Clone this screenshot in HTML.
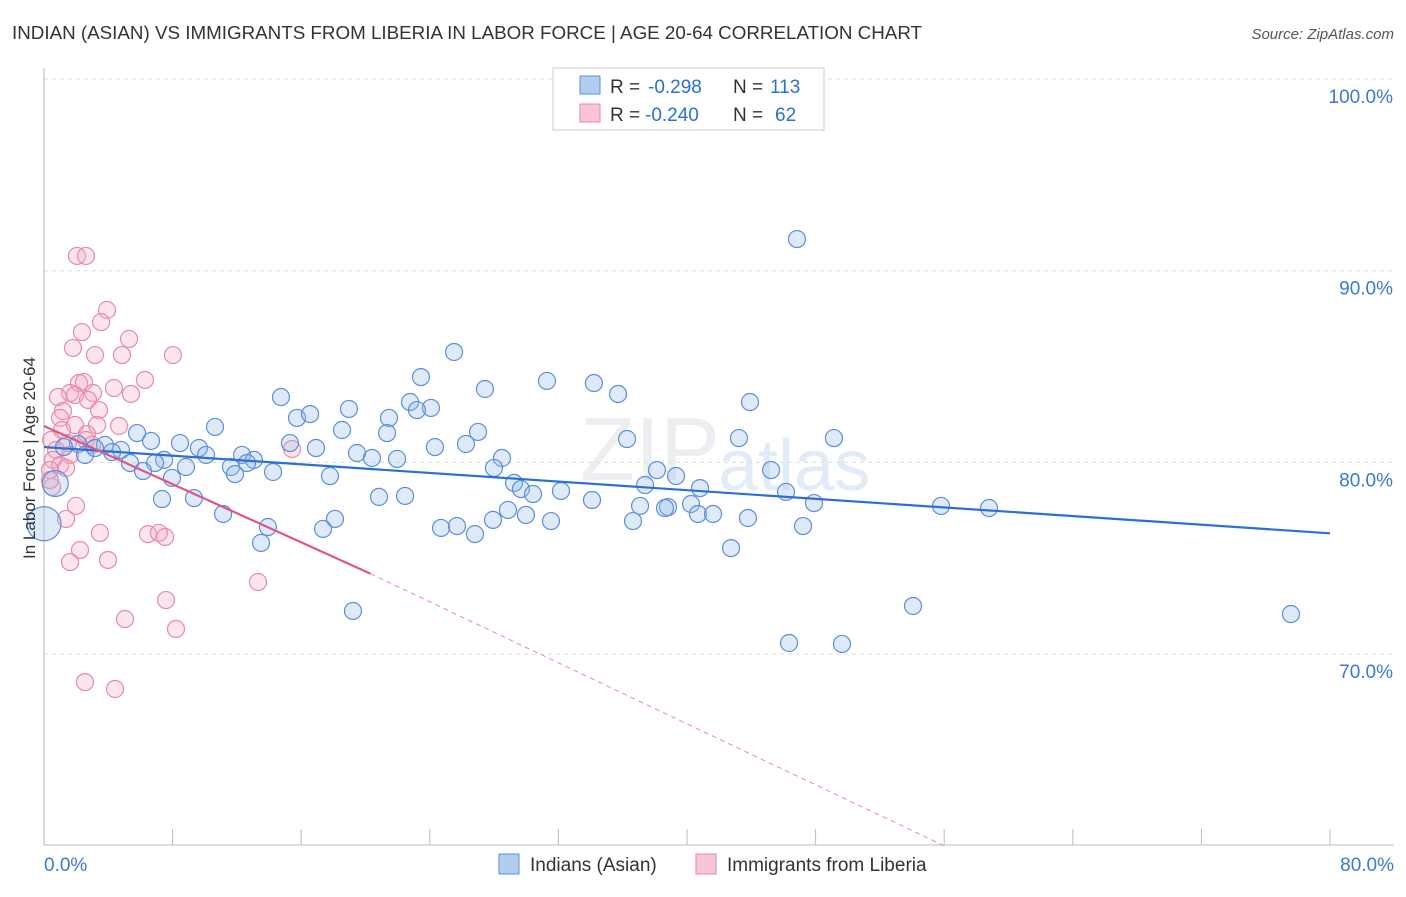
<!DOCTYPE html>
<html><head><meta charset="utf-8"><style>
body{margin:0;background:#fff;font-family:"Liberation Sans",sans-serif;}
svg text{font-family:"Liberation Sans",sans-serif;}
</style></head><body>
<svg id="chart" width="1406" height="892" xmlns="http://www.w3.org/2000/svg">
<text x="12" y="39" font-size="18.8" fill="#333">INDIAN (ASIAN) VS IMMIGRANTS FROM LIBERIA IN LABOR FORCE | AGE 20-64 CORRELATION CHART</text>
<text x="1394" y="39" font-size="15" fill="#555" font-style="italic" text-anchor="end">Source: ZipAtlas.com</text>
<text x="720" y="480" font-size="90" fill="#eceef2" text-anchor="end" font-family="Liberation Serif">ZIP</text>
<text x="718" y="490" font-size="72" fill="#e2ebf8">atlas</text>
<g id="grid"></g>
<g id="axes"></g>
<g id="marks"></g>
<text x="35" y="458" font-size="17" fill="#333" text-anchor="middle" transform="rotate(-90 35 458)">In Labor Force | Age 20-64</text>
<g>
<rect x="553" y="68" width="271" height="62" fill="#fff" stroke="#ccc"/>
<rect x="580" y="76" width="20" height="18" fill="#b3cdf1" stroke="#5b8fdc"/>
<rect x="580" y="104" width="20" height="18" fill="#f8c3d3" stroke="#e88aa8"/>
<text x="610" y="93" font-size="19" fill="#333">R =</text>
<text x="648" y="93" font-size="19" fill="#2a6fd6">-0.298</text>
<text x="733" y="93" font-size="19" fill="#333">N =</text>
<text x="770" y="93" font-size="19" fill="#2a6fd6">113</text>
<text x="610" y="121" font-size="19" fill="#333">R =</text>
<text x="645" y="121" font-size="19" fill="#2a6fd6">-0.240</text>
<text x="733" y="121" font-size="19" fill="#333">N =</text>
<text x="775" y="121" font-size="19" fill="#2a6fd6">62</text>
</g>
<g>
<rect x="499" y="854" width="20" height="20" fill="#b3cdf1" stroke="#5b8fdc"/>
<text x="530" y="871" font-size="19" fill="#333">Indians (Asian)</text>
<rect x="696" y="854" width="20" height="20" fill="#f8c3d3" stroke="#e88aa8"/>
<text x="727" y="871" font-size="19" fill="#333">Immigrants from Liberia</text>
</g>
</svg>
<script>
const xTicks=[0,8,16,24,32,40,48,56,64,72,80];
const yTicks=[100,90,80,70];
const yTickLabels=["100.0%","90.0%","80.0%","70.0%"];
const bluePx=[[797,239],[454,352],[421,377],[547,381],[594,383],[485,389],[618,394],[281,397],[750,402],[410,402],[349,409],[431,408],[417,410],[297,418],[310,414],[389,418],[215,427],[342,430],[478,432],[387,433],[739,438],[834,438],[627,439],[137,433],[180,443],[290,443],[466,444],[435,447],[316,448],[199,448],[78,444],[151,441],[105,445],[121,450],[85,455],[357,453],[206,455],[242,455],[372,458],[397,459],[254,460],[502,458],[130,463],[164,460],[155,463],[247,463],[231,467],[186,467],[143,471],[273,472],[494,468],[657,470],[676,476],[771,470],[235,474],[172,478],[330,476],[514,483],[645,485],[700,488],[521,489],[533,494],[786,492],[561,491],[592,500],[379,497],[405,496],[162,499],[194,498],[814,503],[941,506],[989,508],[508,510],[640,506],[668,507],[691,504],[665,508],[698,514],[713,514],[526,515],[335,519],[223,514],[551,521],[633,521],[748,518],[493,520],[323,529],[268,527],[441,528],[457,526],[475,534],[803,526],[261,543],[731,548],[353,611],[913,606],[1291,614],[789,643],[842,644],[64,447],[95,448],[112,452]];
const pinkPx=[[77,256],[86,256],[107,310],[101,322],[82,332],[129,339],[73,348],[95,355],[122,355],[173,355],[145,380],[79,383],[84,382],[114,388],[70,393],[131,394],[58,397],[75,395],[93,393],[88,400],[99,410],[63,411],[60,418],[75,425],[119,426],[97,425],[87,434],[62,430],[51,440],[86,440],[92,445],[68,443],[56,450],[70,455],[53,460],[60,465],[66,468],[50,470],[52,487],[76,506],[66,519],[100,533],[148,534],[159,533],[165,537],[80,550],[70,562],[108,560],[258,582],[166,600],[125,619],[176,629],[85,682],[115,689],[292,449],[50,480]];
const blueX=bluePx.map(p=>+((p[0]-44)/16.075).toFixed(2));
const blueY=bluePx.map(p=>+(100-(p[1]-79)/19.17).toFixed(2));
const pinkX=pinkPx.map(p=>+((p[0]-44)/16.075).toFixed(2));
const pinkY=pinkPx.map(p=>+(100-(p[1]-79)/19.17).toFixed(2));
const blueBig=[[0.7,78.9],[0.0,76.8]];
const blueTrend=[[0,80.8],[80,76.3]];
const pinkTrend=[[0,81.9],[20.3,74.2],[56,60]];
const X=v=>44+v*16.075, Y=v=>79+(100-v)*19.17;
const NS="http://www.w3.org/2000/svg";
function mk(tag,attrs,parent){const e=document.createElementNS(NS,tag);for(const k in attrs)e.setAttribute(k,attrs[k]);parent.appendChild(e);return e;}
const grid=document.getElementById('grid'),axes=document.getElementById('axes'),marks=document.getElementById('marks');
yTicks.forEach((t,i)=>{
 const l=mk('line',{x1:44,x2:1394,y1:Y(t),y2:Y(t),stroke:'#ddd','stroke-dasharray':'4,4'},grid);
 
 
 const tx=mk('text',{x:1393,y:Y(t)+24,'font-size':19,fill:'#3a78d8','text-anchor':'end'},axes);
 tx.textContent=yTickLabels[i];
 
 
});
mk('line',{x1:44,x2:44,y1:68,y2:845,stroke:'#bbb'},axes);
mk('line',{x1:44,x2:1394,y1:845,y2:845,stroke:'#bbb'},axes);
xTicks.forEach(t=>{const l=mk('line',{x1:X(t),x2:X(t),y1:829,y2:845,stroke:'#bbb'},axes);
 
 });
const x0=mk('text',{x:44,y:871,'font-size':19,fill:'#3a78d8'},axes);x0.textContent='0.0%';


const x1=mk('text',{x:1394,y:871,'font-size':19,fill:'#3a78d8','text-anchor':'end'},axes);x1.textContent='80.0%';


pinkX.forEach((x,i)=>{const c=mk('circle',{cx:X(x),cy:Y(pinkY[i]),r:8.5,fill:'rgba(245,170,195,0.3)',stroke:'#e88aa8','stroke-width':1.2},marks);
 
 });
blueX.forEach((x,i)=>{const c=mk('circle',{cx:X(x),cy:Y(blueY[i]),r:8.5,fill:'rgba(150,185,235,0.3)',stroke:'#5b8fdc','stroke-width':1.2},marks);
 
 });
blueBig.forEach((p,i)=>{const c=mk('circle',{cx:X(p[0]),cy:Y(p[1]),r:i?17:13,fill:'rgba(150,185,235,0.3)',stroke:'#5b8fdc','stroke-width':1.2},marks);
 
 });
const bl=mk('line',{x1:X(blueTrend[0][0]),y1:Y(blueTrend[0][1]),x2:X(blueTrend[1][0]),y2:Y(blueTrend[1][1]),stroke:'#2a6fd6','stroke-width':2.2},marks);


const pl=mk('line',{x1:X(pinkTrend[0][0]),y1:Y(pinkTrend[0][1]),x2:X(pinkTrend[1][0]),y2:Y(pinkTrend[1][1]),stroke:'#e05585','stroke-width':2.2},marks);


const pd=mk('line',{x1:X(pinkTrend[1][0]),y1:Y(pinkTrend[1][1]),x2:X(pinkTrend[2][0]),y2:Y(pinkTrend[2][1]),stroke:'#e88aa8','stroke-width':1,'stroke-dasharray':'5,4'},marks);


</script>
</body></html>
